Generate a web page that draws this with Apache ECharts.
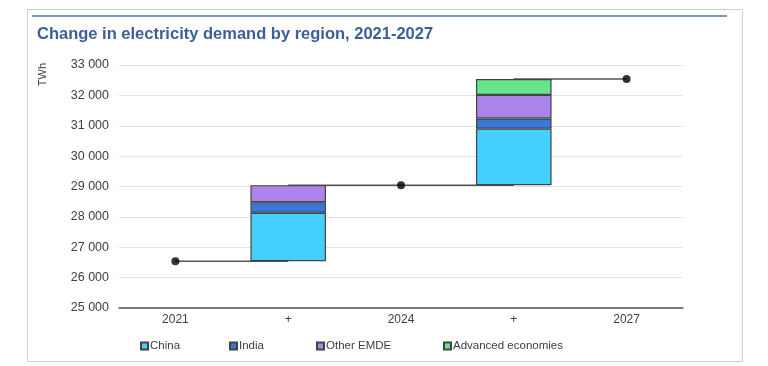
<!DOCTYPE html>
<html><head><meta charset="utf-8">
<script src="https://cdn.jsdelivr.net/npm/echarts@6/dist/echarts.min.js"></script>
<style>html,body{margin:0;padding:0;background:#fff}#c{width:768px;height:366px}</style>
</head><body><div id="c"></div>
<script>
var categories = ['2021', '+', '2024', '+', '2027'];
var totals = [26540, '-', 29045, '-', 32535];
var base = ['-', 26540, '-', 29045, '-'];
var china = ['-', 1595, '-', 1860, '-'];
var india = ['-', 350, '-', 335, '-'];
var otherEmde = ['-', 560, '-', 775, '-'];
var advanced = ['-', '-', '-', 520, '-'];
var step1 = [26540, 26540, '-', '-', '-'];
var step2 = ['-', 29045, 29045, 29045, '-'];
var step3 = ['-', '-', '-', 32535, 32535];

var chart = echarts.init(document.getElementById('c'));
var font = 'Liberation Sans, Arial, sans-serif';
var border = {borderColor: '#444', borderWidth: 1.2};
function barS(name, data, color) {
  return {name: name, type: 'bar', stack: 's', data: data, barWidth: '67%', z: 3,
    itemStyle: Object.assign({color: color}, border)};
}
function lineS(data) {
  return {type: 'line', data: data, symbol: 'none', z: 2, silent: true,
    lineStyle: {color: '#555', width: 1.5}};
}
function leg(name, left) {
  return {data: [name], left: left, top: 340, icon: 'rect', itemWidth: 7, itemHeight: 7, itemGap: 3,
    textStyle: {fontFamily: font, fontSize: 11.5, color: '#404040', padding: [0, 0, 0, -3]}, padding: 0,
    selectedMode: false};
}
chart.setOption({
  animation: false,
  title: {text: 'Change in electricity demand by region, 2021-2027', left: 32, top: 21,
    textStyle: {fontFamily: font, fontSize: 16.5, fontWeight: 'bold', color: '#3b5f98'}},
  graphic: [
    {type: 'rect', shape: {x: 27.5, y: 9.5, width: 715, height: 352}, style: {fill: 'none', stroke: '#cfcfcf', lineWidth: 1}},
    {type: 'line', shape: {x1: 32, y1: 16, x2: 727, y2: 16}, style: {stroke: '#4a75b5', lineWidth: 1.5}},
    {type: 'text', left: 37, top: 63, rotation: Math.PI / 2, style: {text: 'TWh', font: '11px ' + font, fill: '#444'}}
  ],
  legend: [leg('China', 140), leg('India', 229), leg('Other EMDE', 316), leg('Advanced economies', 443)],
  grid: {left: 119, right: 85, top: 65, bottom: 58},
  xAxis: {type: 'category', data: categories,
    axisLine: {lineStyle: {color: '#555', width: 1.5}}, axisTick: {show: false},
    axisLabel: {fontFamily: font, fontSize: 12, color: '#404040', margin: 6}},
  yAxis: {type: 'value', min: 25000, max: 33000, interval: 1000,
    axisLine: {show: false}, axisTick: {show: false},
    splitLine: {lineStyle: {color: '#e3e3e3', width: 1}},
    axisLabel: {fontFamily: font, fontSize: 12.5, color: '#404040', margin: 10,
      formatter: function (v) { return String(v).replace(/(\d\d)(\d{3})$/, '$1 $2'); }}},
  series: [
    lineS(step1), lineS(step2), lineS(step3),
    {name: 'base', type: 'bar', stack: 's', data: base, barWidth: '67%', itemStyle: {color: 'transparent'}, silent: true, z: 3},
    barS('China', china, '#45cfff'),
    barS('India', india, '#3b78d6'),
    barS('Other EMDE', otherEmde, '#ad84ec'),
    barS('Advanced economies', advanced, '#66e68c'),
    {type: 'scatter', data: totals, symbolSize: 8, itemStyle: {color: '#000'}, z: 5}
  ]
});
</script></body></html>
